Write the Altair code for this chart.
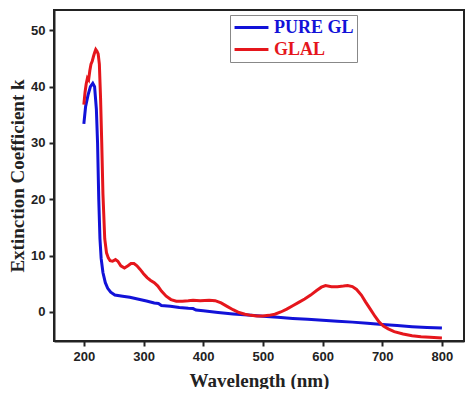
import altair as alt
import pandas as pd

series_names = ["PURE GL", "GLAL"]
series_colors = ["#1212d8", "#e5161c"]

pure_wl = [200, 203, 207, 211, 215, 218, 221, 223, 225, 227, 229, 232, 236, 240, 245, 252,
           265, 277, 290, 305, 318, 325, 330, 345, 360, 375, 383, 388, 400, 425, 450, 475,
           500, 525, 550, 575, 600, 625, 650, 675, 700, 725, 750, 775, 800]
pure_k = [33.4, 36.5, 38.5, 40.0, 40.6, 40.0, 36.0, 30.0, 20.0, 13.0, 9.5, 7.0, 5.2, 4.2, 3.5, 3.0,
          2.8, 2.6, 2.3, 1.95, 1.6, 1.5, 1.15, 1.0, 0.8, 0.65, 0.6, 0.35, 0.2, -0.1, -0.35, -0.55,
          -0.75, -0.95, -1.15, -1.3, -1.45, -1.65, -1.8, -2.0, -2.2, -2.4, -2.6, -2.75, -2.85]

glal_wl = [200, 202, 204, 206, 208, 210, 212, 214, 216, 218, 220, 222, 224, 226, 228, 230, 232,
           235, 238, 241, 244, 248, 253, 257, 262, 268, 274, 279, 284, 289, 294, 300, 306, 312,
           318, 324, 330, 338, 346, 355, 365, 375, 383, 395, 410, 420, 430, 440, 450, 460, 470,
           480, 490, 500, 510, 520, 530, 540, 550, 560, 570, 580, 590, 598, 605, 615, 625, 635,
           642, 650, 657, 665, 672, 680, 688, 695, 702, 710, 720, 735, 750, 765, 780, 800]
glal_k = [36.8, 39.0, 40.5, 41.5, 41.2, 42.8, 44.0, 44.5, 45.3, 46.0, 46.6, 46.3, 45.8, 44.0, 38.0,
          30.0, 21.0, 13.0, 10.5, 9.6, 9.1, 9.0, 9.3, 9.0, 8.2, 7.8, 8.2, 8.6, 8.6, 8.2, 7.6, 6.8,
          6.1, 5.6, 5.2, 4.6, 3.7, 2.8, 2.2, 1.9, 1.9, 2.0, 2.1, 2.0, 2.1, 2.0, 1.6, 1.0, 0.4,
          -0.1, -0.4, -0.6, -0.7, -0.7, -0.6, -0.4, 0.0, 0.5, 1.1, 1.7, 2.3, 3.0, 3.8, 4.4, 4.7,
          4.5, 4.5, 4.6, 4.7, 4.5, 4.0, 3.0, 1.8, 0.5, -0.8, -1.8, -2.5, -3.0, -3.5, -3.9, -4.2,
          -4.4, -4.5, -4.6]

x_ticks = [200, 300, 400, 500, 600, 700, 800]
y_ticks = [0, 10, 20, 30, 40, 50]

df = pd.concat([
    pd.DataFrame({"wl": pure_wl, "k": pure_k, "series": series_names[0], "order": range(len(pure_wl))}),
    pd.DataFrame({"wl": glal_wl, "k": glal_k, "series": series_names[1], "order": range(len(glal_wl))}),
])

label_color_expr = "datum.label == 'GLAL' ? '%s' : '%s'" % (series_colors[1], series_colors[0])

chart = alt.Chart(df).mark_line(strokeWidth=3, clip=True).encode(
    x=alt.X("wl:Q", scale=alt.Scale(domain=[150, 837], nice=False, zero=False),
            axis=alt.Axis(values=x_ticks, title="Wavelength (nm)", grid=False)),
    y=alt.Y("k:Q", scale=alt.Scale(domain=[-5.15, 53.6], nice=False, zero=False),
            axis=alt.Axis(values=y_ticks, title="Extinction Coefficient k", grid=False)),
    color=alt.Color("series:N",
                    scale=alt.Scale(domain=series_names, range=series_colors),
                    legend=alt.Legend(title=None, orient="none", legendX=176, legendY=5,
                                      symbolType="stroke", symbolSize=1150, symbolStrokeWidth=3,
                                      clipHeight=19,
                                      labelFont="Liberation Serif", labelFontWeight="bold",
                                      labelFontSize=18, labelColor={"expr": label_color_expr},
                                      strokeColor="#888888", padding=3, rowPadding=3,
                                      labelOffset=4)),
    detail="series:N",
    order="order:Q",
).properties(
    width=410, height=331,
    autosize=alt.AutoSizeParams(type="none"),
    padding={"left": 46, "top": 2, "right": 2, "bottom": 48},
).configure_view(
    stroke="#222222", strokeWidth=2,
).configure_axis(
    domainColor="#222222", domainWidth=2,
    tickColor="#222222", tickWidth=2, tickSize=5,
    labelFont="Liberation Sans", labelFontWeight="bold", labelFontSize=13, labelColor="#222222",
    labelPadding=4,
    titleFont="Liberation Serif", titleFontWeight="bold", titleFontSize=19, titleColor="#222222",
).configure_axisX(titlePadding=8).configure_axisY(titlePadding=3)

chart.save("out.html", embed_options={"renderer": "svg", "actions": False})
